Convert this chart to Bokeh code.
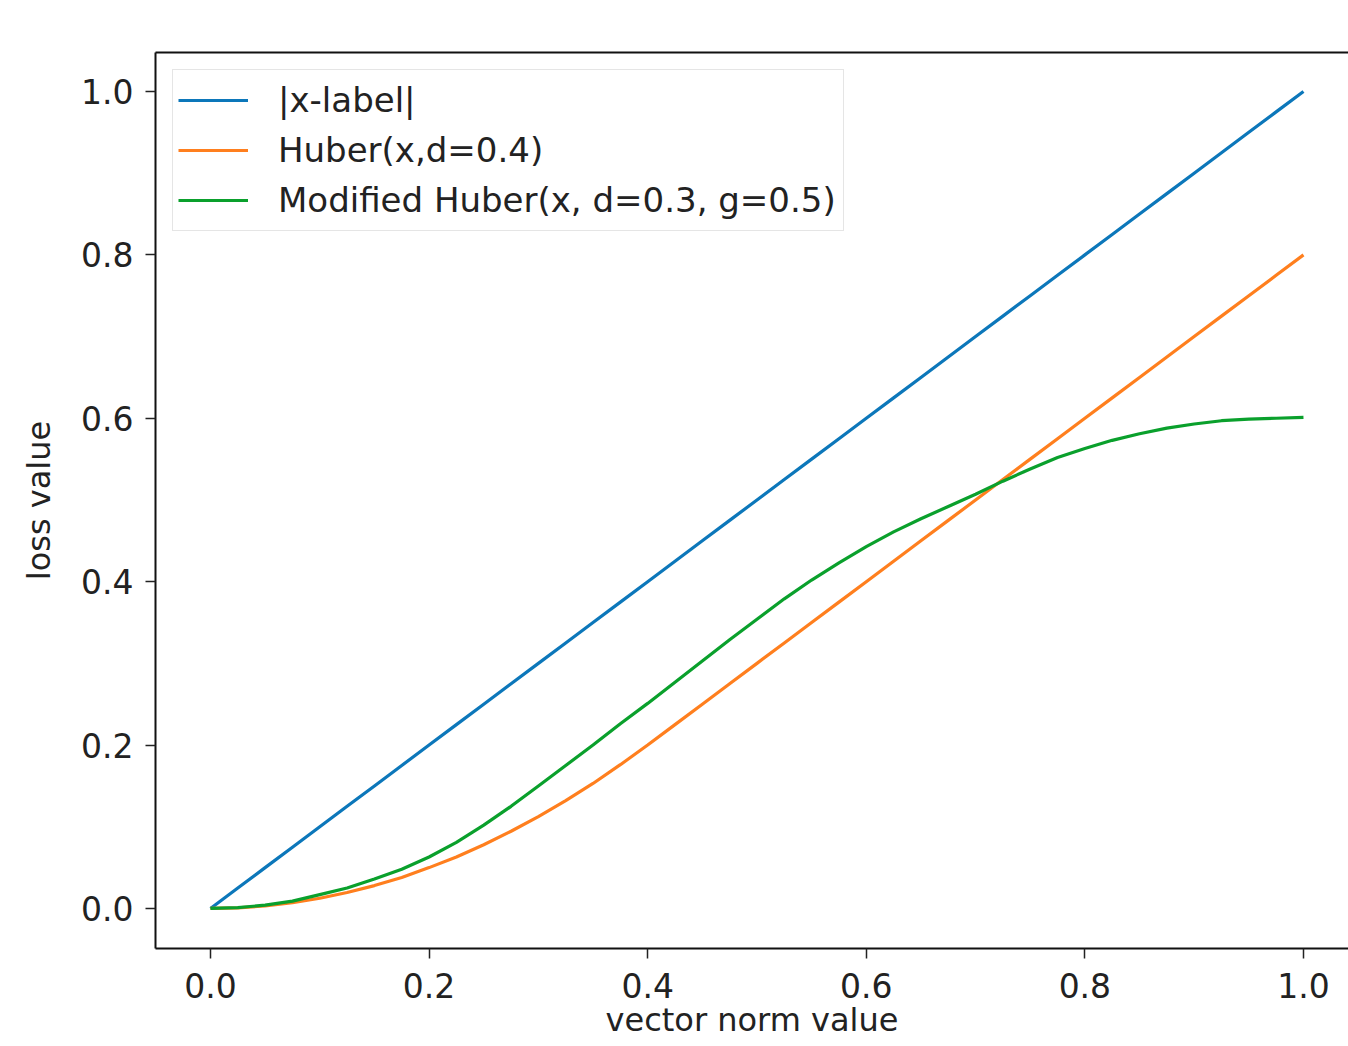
from bokeh.plotting import figure
from bokeh.models import Range1d, LinearAxis, FixedTicker, Legend, LegendItem, PrintfTickFormatter
from bokeh.embed import file_html
from bokeh.resources import INLINE

# data
x_vals = [0.0, 0.025, 0.05, 0.075, 0.1, 0.125, 0.15, 0.175, 0.2, 0.225, 0.25,
          0.275, 0.3, 0.325, 0.35, 0.375, 0.4, 0.425, 0.45, 0.475, 0.5,
          0.525, 0.55, 0.575, 0.6, 0.625, 0.65, 0.675, 0.7, 0.725, 0.75,
          0.775, 0.8, 0.825, 0.85, 0.875, 0.9, 0.925, 0.95, 0.975, 1.0]
abs_vals = [0.0, 0.025, 0.05, 0.075, 0.1, 0.125, 0.15, 0.175, 0.2, 0.225, 0.25,
            0.275, 0.3, 0.325, 0.35, 0.375, 0.4, 0.425, 0.45, 0.475, 0.5,
            0.525, 0.55, 0.575, 0.6, 0.625, 0.65, 0.675, 0.7, 0.725, 0.75,
            0.775, 0.8, 0.825, 0.85, 0.875, 0.9, 0.925, 0.95, 0.975, 1.0]
huber_vals = [0.0, 0.0008, 0.003, 0.007, 0.0125, 0.0195, 0.028, 0.038, 0.05, 0.063, 0.078,
              0.0945, 0.1125, 0.132, 0.153, 0.176, 0.2, 0.225, 0.25, 0.275, 0.3,
              0.325, 0.35, 0.375, 0.4, 0.425, 0.45, 0.475, 0.5, 0.525, 0.55,
              0.575, 0.6, 0.625, 0.65, 0.675, 0.7, 0.725, 0.75, 0.775, 0.8]
mod_huber_vals = [0.0, 0.001, 0.004, 0.009, 0.017, 0.025, 0.036, 0.048, 0.063, 0.081, 0.102,
                  0.125, 0.150, 0.175, 0.200, 0.226, 0.251, 0.277, 0.303, 0.329, 0.354,
                  0.379, 0.402, 0.423, 0.443, 0.461, 0.477, 0.492, 0.507, 0.523, 0.538,
                  0.552, 0.563, 0.573, 0.581, 0.588, 0.593, 0.597, 0.599, 0.600, 0.601]
series_labels = ["|x-label|", "Huber(x,d=0.4)", "Modified Huber(x, d=0.3, g=0.5)"]
tick_vals = [0.0, 0.2, 0.4, 0.6, 0.8, 1.0]
x_title = "vector norm value"
y_title = "loss value"

FONT = "DejaVu Sans"
colors = ["#0c77ba", "#ff7f1e", "#0aa02c"]

p = figure(width=1348, height=1046, output_backend="svg", toolbar_location=None,
           x_range=Range1d(-0.0503, 1.0412), y_range=Range1d(-0.049, 1.0477),
           min_border_left=155, min_border_right=0, min_border_top=52, min_border_bottom=98)
p.outline_line_color = None
p.xgrid.visible = False
p.ygrid.visible = False
p.background_fill_color = "white"

renderers = []
for ys, c in zip([abs_vals, huber_vals, mod_huber_vals], colors):
    r = p.line(x_vals, ys, line_color=c, line_width=3.2)
    renderers.append(r)

for ax in (p.xaxis[0], p.yaxis[0]):
    ax.ticker = FixedTicker(ticks=tick_vals)
    ax.formatter = PrintfTickFormatter(format="%.1f")
    ax.minor_tick_line_color = None
    ax.major_tick_out = 10
    ax.major_tick_in = 0
    ax.major_tick_line_width = 1.5
    ax.major_tick_line_color = "#222222"
    ax.axis_line_width = 2
    ax.axis_line_color = "#111111"
    ax.major_label_text_font = FONT
    ax.major_label_text_font_size = "33px"
    ax.major_label_text_color = "#222222"
    ax.axis_label_text_font = FONT
    ax.axis_label_text_font_size = "32px"
    ax.axis_label_text_font_style = "normal"
    ax.axis_label_text_color = "#222222"

p.xaxis[0].axis_label = x_title
p.yaxis[0].axis_label = y_title
p.xaxis[0].major_label_standoff = 14
p.xaxis[0].axis_label_standoff = 0
p.yaxis[0].major_label_standoff = 12
p.yaxis[0].axis_label_standoff = 20

top_axis = LinearAxis(ticker=FixedTicker(ticks=[]), major_tick_out=0, major_tick_in=0,
                      minor_tick_line_color=None, major_label_text_font_size="0px",
                      major_label_standoff=0, axis_line_width=2, axis_line_color="#111111")
p.add_layout(top_axis, "above")

legend = Legend(items=[LegendItem(label=l, renderers=[r]) for l, r in zip(series_labels, renderers)],
                location="top_left", margin=17, padding=5, spacing=0,
                label_height=50, glyph_height=50, glyph_width=70, label_standoff=30,
                label_width=560,
                label_text_font=FONT, label_text_font_size="34px", label_text_color="#222222",
                border_line_color="#cccccc", border_line_width=1.5,
                background_fill_color="white", background_fill_alpha=0.8)
p.add_layout(legend, "center")

open("out.html", "w").write(file_html(p, INLINE))
